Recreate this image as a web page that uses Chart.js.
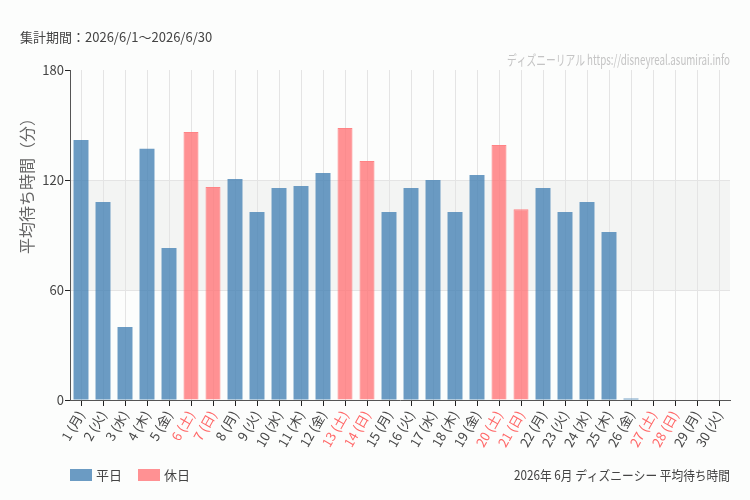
<!DOCTYPE html>
<html lang="ja">
<head>
<meta charset="utf-8">
<title>平均待ち時間</title>
<script src="https://cdn.jsdelivr.net/npm/chart.js@4/dist/chart.umd.min.js"></script>
<style>
  body { margin: 0; background: #fcfdfc; }
  #wrap { width: 750px; height: 500px; }
</style>
</head>
<body>
<div id="wrap"><canvas id="chart" width="750" height="500"></canvas></div>
<script>
// data
const days = [
  '1 (月)', '2 (火)', '3 (水)', '4 (木)', '5 (金)', '6 (土)', '7 (日)',
  '8 (月)', '9 (火)', '10 (水)', '11 (木)', '12 (金)', '13 (土)', '14 (日)',
  '15 (月)', '16 (火)', '17 (水)', '18 (木)', '19 (金)', '20 (土)', '21 (日)',
  '22 (月)', '23 (火)', '24 (水)', '25 (木)', '26 (金)', '27 (土)', '28 (日)',
  '29 (月)', '30 (火)'
];
const holidayIdx = [5, 6, 12, 13, 19, 20, 26, 27];
const weekdayWait = [
  141.8, 108, 39.8, 137, 82.9, null, null,
  120.5, 102.5, 115.6, 116.7, 123.8, null, null,
  102.5, 115.6, 120, 102.5, 122.7, null, null,
  115.6, 102.5, 108, 91.6, 0.8, null, null,
  null, null
];
const holidayWait = [
  null, null, null, null, null, 146.2, 116.2,
  null, null, null, null, null, 148.4, 130.4,
  null, null, null, null, null, 139.1, 104,
  null, null, null, null, null, null, null,
  null, null
];
const yTicks = [0, 60, 120, 180];
const bandRange = [60, 120];

const periodText = '集計期間：2026/6/1～2026/6/30';
const siteText = 'ディズニーリアル https://disneyreal.asumirai.info';
const captionText = '2026年 6月 ディズニーシー 平均待ち時間';
const yTitle = '平均待ち時間（分）';

const BLUE = 'rgba(70, 130, 180, 0.8)';
const PINK = 'rgba(255, 118, 120, 0.8)';
const FONT = "'Noto Sans CJK JP', 'Noto Sans', sans-serif";

Chart.defaults.font.family = FONT;

// shaded band between 60 and 120
const bandPlugin = {
  id: 'band',
  beforeDraw(chart) {
    const { ctx, chartArea: a, scales: { y } } = chart;
    const top = y.getPixelForValue(bandRange[1]);
    const bottom = y.getPixelForValue(bandRange[0]);
    ctx.save();
    ctx.fillStyle = 'rgba(0, 0, 0, 0.035)';
    ctx.fillRect(a.left, top, a.right - a.left, bottom - top);
    ctx.restore();
  }
};

// header texts, y title, legend and caption
const textPlugin = {
  id: 'texts',
  afterDraw(chart) {
    const { ctx, chartArea: a } = chart;
    ctx.save();
    ctx.textBaseline = 'middle';

    ctx.font = '13px ' + FONT;
    ctx.fillStyle = '#444';
    ctx.textAlign = 'left';
    ctx.fillText(periodText, 20, 37);

    // narrow watermark, squeezed like the original
    ctx.font = '14px ' + FONT;
    ctx.fillStyle = '#c4c4c4';
    ctx.textAlign = 'right';
    ctx.fillText(siteText, a.right, 60, 223);

    // y axis title
    ctx.save();
    ctx.translate(27, 182);
    ctx.rotate(-Math.PI / 2);
    ctx.font = '16px ' + FONT;
    ctx.fillStyle = '#666';
    ctx.textAlign = 'center';
    ctx.fillText(yTitle, 0, 0);
    ctx.restore();

    // legend
    ctx.font = '13px ' + FONT;
    ctx.textAlign = 'left';
    let x = a.left;
    chart.data.datasets.forEach(ds => {
      ctx.fillStyle = ds.backgroundColor;
      ctx.fillRect(x, 469, 22, 12);
      ctx.fillStyle = '#444';
      ctx.fillText(ds.label, x + 26, 475);
      x += 26 + ctx.measureText(ds.label).width + 16;
    });

    ctx.textAlign = 'right';
    ctx.fillText(captionText, a.right, 475, 216);
    ctx.restore();
  }
};

new Chart(document.getElementById('chart'), {
  type: 'bar',
  data: {
    labels: days,
    datasets: [
      { label: '平日', data: weekdayWait, backgroundColor: BLUE },
      { label: '休日', data: holidayWait, backgroundColor: PINK, borderColor: 'rgba(255, 118, 120, 0.9)', borderWidth: 1 }
    ]
  },
  options: {
    responsive: false,
    animation: false,
    layout: { padding: { top: 70, left: 12, right: 20, bottom: 50 } },
    plugins: {
      legend: { display: false },
      tooltip: { enabled: false }
    },
    datasets: {
      bar: { categoryPercentage: 1, barPercentage: 0.68 }
    },
    scales: {
      x: {
        stacked: true,
        afterFit: s => { s.height = 50; },
        grid: { offset: false, color: '#e4e4e4', tickColor: '#222', tickLength: 6 },
        border: { color: '#555', width: 1 },
        ticks: {
          minRotation: 60,
          maxRotation: 60,
          autoSkip: false,
          padding: 2,
          font: { size: 13 },
          color: ctx => holidayIdx.includes(ctx.index) ? '#ff6666' : '#444'
        }
      },
      y: {
        stacked: true,
        min: 0,
        max: 180,
        afterFit: s => { s.width = 58; },
        afterBuildTicks: s => { s.ticks = yTicks.map(v => ({ value: v })); },
        grid: {
          color: ctx => bandRange.includes(ctx.tick && ctx.tick.value) ? '#e4e4e4' : 'rgba(0,0,0,0)',
          tickColor: '#222',
          tickLength: 5
        },
        border: { color: '#555', width: 1 },
        ticks: { padding: 1, font: { size: 13 }, color: '#444' }
      }
    }
  },
  plugins: [bandPlugin, textPlugin]
});
</script>
</body>
</html>
